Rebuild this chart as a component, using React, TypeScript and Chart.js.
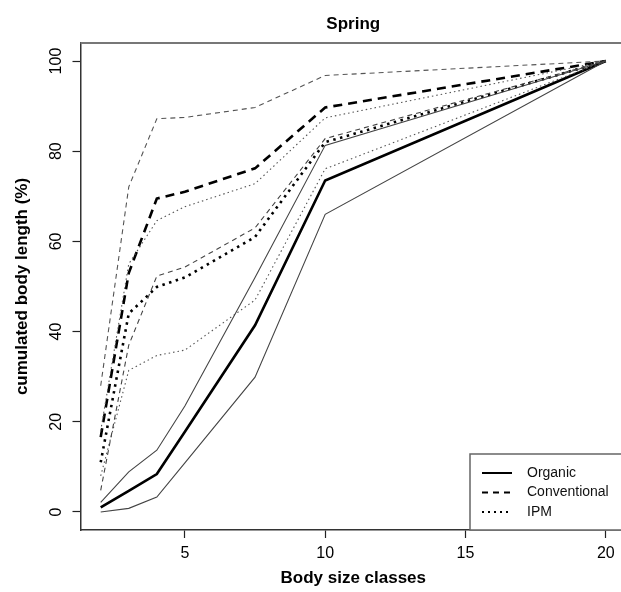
import React, { useEffect, useRef } from "react";
import { Chart, registerables } from "chart.js";

Chart.register(...registerables);

// ---- data ----
const sizeClasses = [2, 3, 4, 5, 7.5, 10, 20];
const organicMean = [1, 4.7, 8.4, 17.8, 41.4, 73.5, 100];
const organicLow = [0, 0.8, 3.3, 10.9, 29.9, 66, 100];
const organicHigh = [2.1, 8.9, 13.7, 23.5, 52, 81.3, 100];
const conventionalMean = [16.6, 53, 69.5, 71, 76.2, 89.7, 100];
const conventionalLow = [4.8, 37, 52.3, 54.3, 63, 82.8, 100];
const conventionalHigh = [28, 72.1, 87.2, 87.5, 89.7, 96.8, 100];
const ipmMean = [11, 44, 49.9, 52, 61, 82, 100];
const ipmLow = [8, 31.4, 34.7, 35.9, 47, 76.1, 100];
const ipmHigh = [18, 55, 64.6, 67.7, 72.8, 87.4, 100];
const xTicks = [5, 10, 15, 20];
const yTicks = [0, 20, 40, 60, 80, 100];
const legendLabels = ["Organic", "Conventional", "IPM"];
const chartTitle = "Spring";
const xTitle = "Body size classes";
const yTitle = "cumulated body length (%)";

const FONT = "'Liberation Sans', Arial, Helvetica, sans-serif";

const pts = (ys: number[]) => sizeClasses.map((x, i) => ({ x, y: ys[i] }));

const SOLID: number[] = [];
const DASH_THICK = [9, 6];
const DASH_THIN = [5, 4];
const DOT_THICK = [2.5, 4.5];
const DOT_THIN = [1.5, 3];

function ds(label: string, ys: number[], dash: number[], thick: boolean, color: string) {
  return {
    label,
    data: pts(ys),
    borderColor: color,
    borderWidth: thick ? 2.6 : 1.1,
    borderDash: dash,
    borderCapStyle: "butt" as const,
    pointRadius: 0,
    tension: 0,
    fill: false,
  };
}

const legendStyles = [{ dash: SOLID }, { dash: [6, 5] }, { dash: [2, 4] }];

const framePlugin = {
  id: "frameAndLegend",
  afterDraw(chart: any) {
    const { ctx, chartArea } = chart;
    ctx.save();
    // remaining box edges (top, right)
    ctx.strokeStyle = "#777";
    ctx.lineWidth = 2;
    ctx.beginPath();
    ctx.moveTo(chartArea.left, chartArea.top);
    ctx.lineTo(chartArea.right, chartArea.top);
    ctx.lineTo(chartArea.right, chartArea.bottom);
    ctx.stroke();

    // main title, centred over the plot region (as R does)
    ctx.fillStyle = "#000";
    ctx.font = `bold 17px ${FONT}`;
    ctx.textAlign = "center";
    ctx.textBaseline = "middle";
    ctx.fillText(chartTitle, (chartArea.left + chartArea.right) / 2, 24);

    // legend (bottom right, like R)
    const w = 156;
    const h = 76;
    const lx = chartArea.right - w;
    const ly = chartArea.bottom - h;
    ctx.fillStyle = "#fff";
    ctx.fillRect(lx, ly, w, h);
    ctx.strokeStyle = "#666";
    ctx.lineWidth = 1.5;
    ctx.strokeRect(lx, ly, w, h);
    ctx.font = `14px ${FONT}`;
    ctx.textBaseline = "middle";
    ctx.textAlign = "left";
    legendLabels.forEach((lab, i) => {
      const y = ly + 19 + i * 19.5;
      ctx.strokeStyle = "#000";
      ctx.lineWidth = 2;
      ctx.lineCap = "butt";
      ctx.setLineDash(legendStyles[i].dash);
      ctx.beginPath();
      ctx.moveTo(lx + 12, y);
      ctx.lineTo(lx + 42, y);
      ctx.stroke();
      ctx.setLineDash([]);
      ctx.fillStyle = "#111";
      ctx.fillText(lab, lx + 57, y);
    });
    ctx.restore();
  },
};

export default function App() {
  const ref = useRef<HTMLCanvasElement | null>(null);

  useEffect(() => {
    if (!ref.current) return;
    const chart = new Chart(ref.current, {
      type: "line",
      data: {
        datasets: [
          ds("Organic low", organicLow, SOLID, false, "#444"),
          ds("Organic high", organicHigh, SOLID, false, "#444"),
          ds("Conventional low", conventionalLow, DASH_THIN, false, "#444"),
          ds("Conventional high", conventionalHigh, DASH_THIN, false, "#555"),
          ds("IPM low", ipmLow, DOT_THIN, false, "#555"),
          ds("IPM high", ipmHigh, DOT_THIN, false, "#555"),
          ds("Organic", organicMean, SOLID, true, "#000"),
          ds("Conventional", conventionalMean, DASH_THICK, true, "#000"),
          ds("IPM", ipmMean, DOT_THICK, true, "#000"),
        ],
      },
      options: {
        animation: false,
        responsive: false,
        maintainAspectRatio: false,
        layout: { padding: { left: 0, top: 43, right: 14, bottom: 0 } },
        plugins: {
          legend: { display: false },
          tooltip: { enabled: false },
          title: { display: false },
        },
        scales: {
          x: {
            type: "linear",
            min: 1.28,
            max: 20.72,
            afterFit: (s: any) => {
              s.height = 62;
            },
            afterBuildTicks: (s: any) => {
              s.ticks = xTicks.map((v) => ({ value: v }));
            },
            grid: {
              drawOnChartArea: false,
              drawTicks: true,
              tickLength: 8,
              tickWidth: 1.2,
              tickColor: "#222",
            },
            border: { display: true, color: "#333", width: 1.5 },
            ticks: {
              color: "#000",
              font: { family: FONT, size: 16 },
              padding: 6,
              maxRotation: 0,
              minRotation: 0,
              callback: (v: any) => String(v),
            },
            title: {
              display: true,
              text: xTitle,
              color: "#000",
              font: { family: FONT, size: 17, weight: "bold", lineHeight: 1.2 },
              padding: { top: 0, bottom: 3 },
            },
          },
          y: {
            type: "linear",
            min: -4,
            max: 104,
            afterFit: (s: any) => {
              s.width = 80.5;
            },
            afterBuildTicks: (s: any) => {
              s.ticks = yTicks.map((v) => ({ value: v }));
            },
            grid: {
              drawOnChartArea: false,
              drawTicks: true,
              tickLength: 8,
              tickWidth: 1.2,
              tickColor: "#222",
            },
            border: { display: true, color: "#333", width: 1.5 },
            ticks: {
              color: "#000",
              font: { family: FONT, size: 16 },
              padding: 3,
              minRotation: 90,
              maxRotation: 90,
              crossAlign: "center",
              callback: (v: any) => String(v),
            },
            title: {
              display: true,
              text: yTitle,
              color: "#000",
              font: { family: FONT, size: 17, weight: "bold", lineHeight: 1.2 },
              padding: { top: 12, bottom: 0 },
            },
          },
        },
      },
      plugins: [framePlugin],
    });
    return () => chart.destroy();
  }, []);

  return (
    <div
      style={{
        position: "absolute",
        left: 0,
        top: 0,
        width: 621,
        height: 592,
        overflow: "hidden",
        background: "#fff",
      }}
    >
      <canvas ref={ref} width={640} height={592} style={{ display: "block", width: 640, height: 592 }} />
    </div>
  );
}
